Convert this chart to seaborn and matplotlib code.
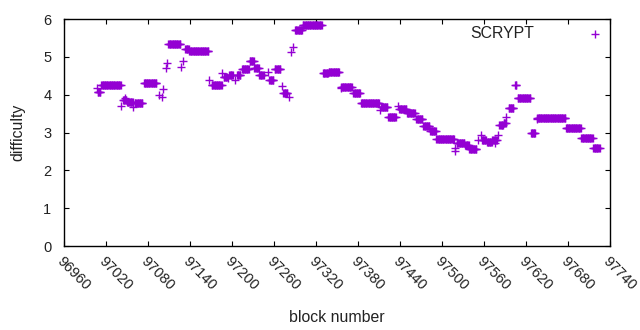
import numpy as np
import pandas as pd
import matplotlib
matplotlib.use("Agg")
import matplotlib.pyplot as plt
import seaborn as sns

# Runs of constant SCRYPT difficulty: first block, last block, difficulty
seg_start = [97007, 97008, 97013, 97042, 97044, 97047, 97050, 97059, 97061, 97074,
             97096, 97100, 97102, 97105, 97107, 97109, 97127, 97130, 97133, 97139,
             97167, 97171, 97186, 97188, 97194, 97196, 97204, 97207, 97214, 97225,
             97232, 97239, 97252, 97253, 97261, 97271, 97273, 97281, 97284, 97287,
             97290, 97301, 97330, 97338, 97355, 97356, 97365, 97373, 97384, 97390,
             97398, 97411, 97413, 97423, 97437, 97439, 97450, 97463, 97473, 97483,
             97492, 97519, 97519, 97521, 97533, 97539, 97552, 97556, 97557, 97564,
             97572, 97575, 97580, 97582, 97588, 97592, 97595, 97604, 97608, 97627,
             97635, 97636, 97654, 97677, 97699, 97716]
seg_end = [97007, 97012, 97041, 97042, 97049, 97047, 97058, 97059, 97072, 97092,
           97096, 97100, 97102, 97105, 97107, 97126, 97127, 97130, 97138, 97166,
           97167, 97185, 97186, 97193, 97194, 97201, 97204, 97212, 97224, 97231,
           97238, 97245, 97252, 97259, 97269, 97271, 97279, 97281, 97284, 97287,
           97300, 97328, 97337, 97353, 97355, 97364, 97371, 97383, 97389, 97397,
           97410, 97411, 97422, 97434, 97437, 97449, 97461, 97472, 97482, 97491,
           97517, 97519, 97519, 97532, 97538, 97549, 97552, 97556, 97563, 97571,
           97578, 97575, 97580, 97587, 97591, 97592, 97602, 97606, 97626, 97633,
           97635, 97653, 97676, 97698, 97715, 97725]
seg_value = [4.17, 4.08, 4.25, 3.69, 3.86, 3.91, 3.81, 3.67, 3.78, 4.31,
             4.00, 3.93, 4.15, 4.70, 4.85, 5.33, 4.74, 4.90, 5.21, 5.15,
             4.39, 4.25, 4.57, 4.48, 4.44, 4.52, 4.39, 4.52, 4.67, 4.89,
             4.70, 4.51, 4.61, 4.39, 4.68, 4.24, 4.04, 3.95, 5.12, 5.25,
             5.72, 5.84, 4.58, 4.59, 4.17, 4.21, 4.19, 4.04, 3.79, 3.77,
             3.79, 3.60, 3.67, 3.42, 3.70, 3.62, 3.51, 3.35, 3.16, 3.03,
             2.82, 2.60, 2.50, 2.72, 2.67, 2.56, 2.80, 2.94, 2.79, 2.76,
             2.80, 2.72, 2.94, 3.20, 3.25, 3.42, 3.64, 4.26, 3.91, 2.99,
             3.35, 3.39, 3.38, 3.13, 2.85, 2.58]

x_ticks = list(range(96960, 97741, 60))
y_ticks = [0, 1, 2, 3, 4, 5, 6]

blocks, diffs = [], []
for s, e, v in zip(seg_start, seg_end, seg_value):
    for b in range(s, e + 1):
        blocks.append(b)
        diffs.append(v)
df = pd.DataFrame({"block number": blocks, "difficulty": diffs})

sns.set_style("white")
plt.rcParams["font.family"] = ["Liberation Sans", "DejaVu Sans"]

fig = plt.figure(figsize=(6.4, 3.3), dpi=100)
ax = fig.add_axes([64 / 640, (330 - 246) / 330, (610 - 64) / 640, (246 - 19) / 330])

sns.scatterplot(data=df, x="block number", y="difficulty", marker="+",
                color="#9400d3", s=30, linewidth=1.0, label="SCRYPT", ax=ax)

ax.set_xlim(96960, 97740)
ax.set_ylim(0, 6)
ax.set_xticks(x_ticks)
ax.set_yticks(y_ticks)
ax.set_xticklabels([str(t) for t in x_ticks], rotation=-45, ha="left",
                   va="top", rotation_mode="anchor", fontsize=10.5)
ax.set_yticklabels([str(t) for t in y_ticks], fontsize=10.5)
ax.tick_params(direction="in", length=3.5, width=0.8, top=True, right=True,
               bottom=True, left=True, colors="black", labelcolor="#222222")
ax.tick_params(axis="x", pad=6)
ax.tick_params(axis="y", pad=9)
for sp in ax.spines.values():
    sp.set_visible(True)
    sp.set_color("black")
    sp.set_linewidth(1.0)
ax.set_xlabel("block number", fontsize=11.4, color="#222222", labelpad=12)
ax.set_ylabel("difficulty", fontsize=11.4, color="#222222", labelpad=13)

leg = ax.legend(loc="upper right", frameon=False, markerfirst=False,
                fontsize=11.4, handlelength=2.0, handletextpad=2.9,
                borderaxespad=0.0, borderpad=0.4, bbox_to_anchor=(1.014, 0.995))
for t in leg.get_texts():
    t.set_color("#222222")

fig.savefig("out.png", dpi=100)
